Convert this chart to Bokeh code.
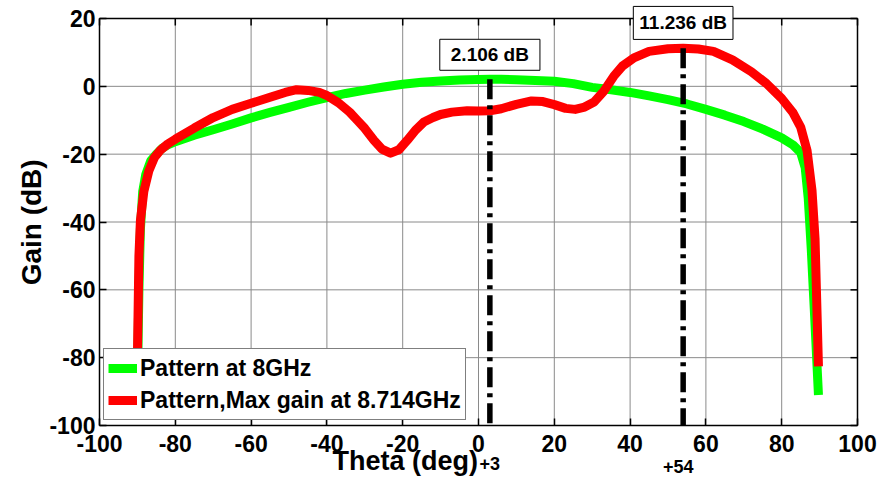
import math
from bokeh.plotting import figure
from bokeh.models import FixedTicker, LinearAxis, Label, Legend, Range1d
from bokeh.embed import file_html
from bokeh.resources import INLINE

# ---------------- data ----------------
theta_green = [-90, -89.6, -89.2, -88.6, -87.8, -86.5, -85, -83.5, -82, -80, -75, -70, -65, -60,
               -55, -50, -45, -40, -35, -30, -25, -20, -15, -10, -5, 0, 3, 6, 10, 15, 20, 25,
               30, 35, 40, 45, 50, 55, 60, 65, 70, 75, 80, 83, 85, 86.2, 87, 87.8, 88.7, 89.7]
gain_green = [-88, -60, -42, -31, -26, -22, -20, -18.3, -17.3, -16.3, -14.4, -12.8, -11.1, -9.3,
              -7.7, -6.2, -4.7, -3.3, -2.1, -1.1, -0.2, 0.6, 1.2, 1.6, 1.9, 2.05, 2.106, 2.08, 1.95,
              1.75, 1.5, 0.8, -0.3, -1.0, -1.8, -2.8, -3.9, -5.2, -6.8, -8.5, -10.4, -12.6, -15.2,
              -17.3, -19.5, -24, -33, -48, -68, -91]

theta_red = [-90, -89.6, -89.2, -88.3, -87, -85.5, -84, -82, -80, -75, -70, -65, -60, -55, -51,
             -48, -45, -42, -40, -37, -34, -32, -30, -27.6, -25.5, -23.2, -21, -18.8, -16.5,
             -14.4, -12, -10, -7, -3, 0, 3, 6, 10, 14, 17, 20, 23, 25.5, 28, 30.5, 33, 35.7, 38,
             41, 45, 50, 54, 58, 62, 67, 72, 76, 80, 83, 85, 86.7, 88, 88.8, 89.7]
gain_red = [-80, -50, -39.5, -31, -25, -21, -18.9, -17, -15.6, -12.3, -9.2, -6.8, -5.0, -3.2, -1.8,
            -1.0, -1.2, -1.8, -2.7, -4.8, -7.6, -10, -12.4, -15.9, -18.5, -19.7, -18.7, -15.9,
            -12.8, -10.5, -9.2, -8.3, -7.6, -7.2, -7.3, -7.2, -6.6, -5.3, -4.3, -4.5, -5.4, -6.5,
            -6.8, -6.1, -4.6, -1.5, 3.0, 6.0, 8.4, 10.3, 11.1, 11.236, 11.0, 10.3, 7.8, 4.3, 0.8,
            -3.6, -7.8, -12, -19, -30.7, -45, -82.6]

peak_theta = [3, 54]
peak_gain = [2.106, 11.236]
peak_text = ["2.106 dB", "11.236 dB"]
peak_axis_text = ["+3", "+54"]

x_ticks = [-100, -80, -60, -40, -20, 0, 20, 40, 60, 80, 100]
y_ticks = [-100, -80, -60, -40, -20, 0, 20]

series_names = ["Pattern at 8GHz", "Pattern,Max gain at 8.714GHz"]
x_title = "Theta (deg)"
y_title = "Gain (dB)"

FONT = "Liberation Sans"
X_MIN, X_MAX = min(x_ticks), max(x_ticks)
Y_MIN, Y_MAX = min(y_ticks), max(y_ticks)

# ---------------- layout (pixels) ----------------
W, H = 888, 481
M_LEFT, M_RIGHT, M_TOP, M_BOTTOM = 99, 31, 18, 56
kx = (W - M_LEFT - M_RIGHT) / (X_MAX - X_MIN)
ky = (H - M_TOP - M_BOTTOM) / (Y_MAX - Y_MIN)
x_range = Range1d(X_MIN - M_LEFT / kx, X_MAX + M_RIGHT / kx)
y_range = Range1d(Y_MIN - M_BOTTOM / ky, Y_MAX + M_TOP / ky)

p = figure(width=W, height=H, x_range=x_range, y_range=y_range,
           x_axis_location=None, y_axis_location=None,
           output_backend="svg", toolbar_location=None, min_border=0)
p.background_fill_color = "white"
p.border_fill_color = "white"
p.outline_line_color = None
p.xgrid.visible = False
p.ygrid.visible = False

# grid lines (only inside the plot box)
p.segment(x0=x_ticks, y0=[Y_MIN] * len(x_ticks), x1=x_ticks, y1=[Y_MAX] * len(x_ticks),
          line_color="#8a8a8a", line_width=1)
p.segment(x0=[X_MIN] * len(y_ticks), y0=y_ticks, x1=[X_MAX] * len(y_ticks), y1=y_ticks,
          line_color="#8a8a8a", line_width=1)

# axes pinned to the plot box edges
xaxis = LinearAxis(ticker=FixedTicker(ticks=x_ticks), fixed_location=Y_MIN,
                   bounds=(X_MIN, X_MAX))
yaxis = LinearAxis(ticker=FixedTicker(ticks=y_ticks), fixed_location=X_MIN,
                   bounds=(Y_MIN, Y_MAX))
for ax, ticks in ((xaxis, x_ticks), (yaxis, y_ticks)):
    ax.major_label_overrides = {t: str(t) for t in ticks}
    ax.major_tick_in = 7
    ax.major_tick_out = 0
    ax.minor_tick_line_color = None
    ax.axis_line_color = "black"
    ax.axis_line_width = 1.5
    ax.major_tick_line_color = "black"
    ax.major_tick_line_width = 1.5
    ax.major_label_text_font = FONT
    ax.major_label_text_font_style = "bold"
    ax.major_label_text_font_size = "23px"
    ax.major_label_text_color = "black"
xaxis.major_label_standoff = 9
yaxis.major_label_standoff = 4
p.add_layout(xaxis, "below")
p.add_layout(yaxis, "left")

# top and right edges of the box with inward ticks
p.segment(x0=[X_MIN, X_MAX], y0=[Y_MAX, Y_MIN], x1=[X_MAX, X_MAX], y1=[Y_MAX, Y_MAX],
          line_color="black", line_width=1.5)
p.ray(x=x_ticks, y=[Y_MAX] * len(x_ticks), length=7, length_units="screen",
      angle=-math.pi / 2, line_color="black", line_width=1.5)
p.ray(x=[X_MAX] * len(y_ticks), y=y_ticks, length=7, length_units="screen",
      angle=math.pi, line_color="black", line_width=1.5)

# curves
g = p.line(theta_green, gain_green, line_color="#00ff00", line_width=9, line_join="round")
r = p.line(theta_red, gain_red, line_color="#ff0000", line_width=9, line_join="round")

# peak markers (dash-dot verticals)
p.segment(x0=peak_theta, y0=peak_gain, x1=peak_theta, y1=[Y_MIN] * len(peak_theta),
          line_color="black", line_width=5.5, line_dash="20 6 4 6")

# peak value boxes
label_y = [9.3, 18.7]
pads = [dict(left=11, right=11, top=5, bottom=5), dict(left=6, right=6, top=6, bottom=6)]
for xv, yv, txt, pad in zip(peak_theta, label_y, peak_text, pads):
    p.add_layout(Label(x=xv, y=yv, text=txt, text_align="center", text_baseline="middle",
                       text_font=FONT, text_font_style="bold", text_font_size="19px",
                       text_color="black", background_fill_color="white",
                       border_line_color="black", border_line_width=1, padding=pad))

# "+3", "+54" under the axis
for xv, txt, xo, yo in zip(peak_theta, peak_axis_text, [0, -5], [-38, -41]):
    p.add_layout(Label(x=xv, y=Y_MIN, x_offset=xo, y_offset=yo, text=txt,
                       text_align="center", text_baseline="middle",
                       text_font=FONT, text_font_style="bold", text_font_size="18px",
                       text_color="black"))

# axis titles
p.add_layout(Label(x=-19.3, y=Y_MIN, y_offset=-35, text=x_title, text_align="center",
                   text_baseline="middle", text_font=FONT, text_font_style="bold",
                   text_font_size="27px", text_color="black"))
p.add_layout(Label(x=X_MIN, x_offset=-68, y=-40.1, text=y_title, angle=math.pi / 2,
                   text_align="center", text_baseline="middle", text_font=FONT,
                   text_font_style="bold", text_font_size="28px", text_color="black"))

legend = Legend(items=[(series_names[0], [g]), (series_names[1], [r])],
                location=(M_LEFT + 4, M_BOTTOM + 5))
legend.border_line_color = "black"
legend.border_line_width = 1.5
legend.background_fill_color = "white"
legend.background_fill_alpha = 1
legend.label_text_font = FONT
legend.label_text_font_style = "bold"
legend.label_text_font_size = "23px"
legend.label_text_color = "black"
legend.glyph_width = 29
legend.glyph_height = 30
legend.label_height = 30
legend.label_standoff = 3
legend.spacing = 2
legend.padding = 4
legend.margin = 0
p.add_layout(legend, "center")

open("out.html", "w").write(file_html(p, INLINE))
